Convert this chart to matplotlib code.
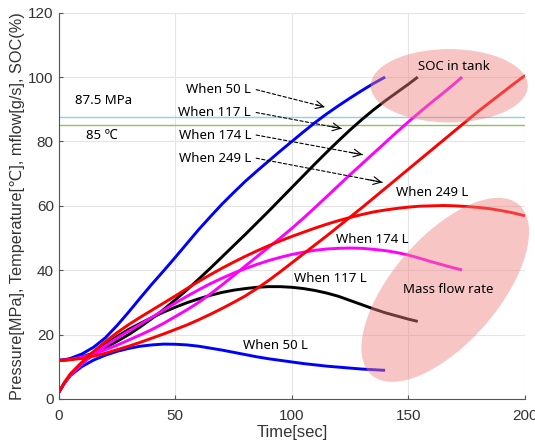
import numpy as np
import matplotlib
matplotlib.use("Agg")
import matplotlib.pyplot as plt
from matplotlib.patches import Ellipse
from matplotlib.transforms import Affine2D

# ---------------- data ----------------
t_50 = [0, 2.5, 5, 10, 15, 20, 25, 30, 35, 40, 45, 50, 55, 60, 65, 70, 75, 80, 85, 90,
        95, 100, 105, 110, 115, 120, 125, 130, 135, 140]
soc_50 = [12, 12.2, 12.6, 14, 16.1, 19.0, 22.8, 27, 31.4, 35.7, 39.8, 44, 48.3, 52.6, 56.6, 60.5,
          64.1, 67.6, 70.8, 73.9, 77, 80, 83, 85.9, 88.6, 91.1, 93.5, 95.8, 98, 100]
mflow_50 = [2, 5.0, 7.3, 10.1, 12.1, 13.6, 14.8, 15.7, 16.4, 16.8, 17.05, 17.0, 16.8, 16.4, 15.8,
            15.2, 14.5, 13.8, 13.1, 12.5, 12.0, 11.5, 11.0, 10.6, 10.2, 9.9, 9.6, 9.3, 9.1, 8.9]

t_117 = [0, 2.5, 5, 10, 15, 20, 25, 30, 35, 40, 45, 50, 55, 60, 65, 70, 75, 80, 85, 90,
         95, 100, 105, 110, 115, 120, 125, 130, 135, 140, 145, 150, 154]
soc_117 = [12, 12.1, 12.3, 13.1, 14.3, 16, 17.9, 20, 22.4, 25, 27.8, 30.8, 33.9, 37.2, 40.6, 44.1,
           47.6, 51.1, 54.7, 58.3, 62, 65.7, 69.4, 73.1, 76.7, 80.2, 83.6, 86.8, 89.8, 92.6, 95.2,
           97.8, 100]
mflow_117 = [2, 5, 7.5, 11, 14.2, 17, 19.4, 21.6, 23.5, 25.3, 27, 28.5, 29.9, 31.1, 32.2, 33.1,
             33.8, 34.3, 34.7, 34.9, 34.9, 34.7, 34.3, 33.7, 32.9, 31.9, 30.6, 29.3, 28, 26.8, 25.8,
             24.8, 24.1]

t_174 = [0, 2.5, 5, 10, 15, 20, 25, 30, 35, 40, 45, 50, 55, 60, 65, 70, 75, 80, 85, 90,
         95, 100, 105, 110, 115, 120, 125, 130, 135, 140, 145, 150, 155, 160, 165, 170, 173]
soc_174 = [12, 12.1, 12.3, 13, 14, 15.3, 16.7, 18.3, 19.9, 21.6, 23.5, 25.6, 27.7, 30, 32.6, 35.4,
           38.3, 41.3, 44.2, 47.1, 50, 53, 56.2, 59.5, 62.9, 66.3, 69.7, 73, 76.3, 79.6, 82.9,
           86.1, 89.2, 92.2, 95.1, 98.1, 100]
mflow_174 = [2, 5, 7.4, 10.9, 13.9, 16.5, 18.9, 21.1, 23.2, 25.4, 27.6, 29.8, 31.9, 33.9, 35.8,
             37.5, 39.1, 40.5, 41.8, 43, 44, 44.9, 45.6, 46.2, 46.6, 46.8, 46.9, 46.8, 46.5, 46.1,
             45.5, 44.7, 43.7, 42.6, 41.6, 40.6, 40.1]

t_249 = [0, 2.5, 5, 10, 15, 20, 25, 30, 35, 40, 45, 50, 55, 60, 65, 70, 75, 80, 85, 90,
         95, 100, 105, 110, 115, 120, 125, 130, 135, 140, 145, 150, 155, 160, 165, 170, 175,
         180, 185, 190, 195, 200]
soc_249 = [12, 12.05, 12.2, 12.6, 13.3, 14.2, 15.3, 16.4, 17.6, 18.9, 20.2, 21.6, 23, 24.6, 26.3,
           28.1, 30, 32, 34.3, 36.8, 39.5, 42.3, 45.1, 47.9, 50.7, 53.6, 56.5, 59.4, 62.4, 65.4,
           68.4, 71.4, 74.4, 77.4, 80.4, 83.4, 86.4, 89.4, 92.2, 95, 97.8, 100.5]
mflow_249 = [2, 5.2, 7.8, 11.5, 14.8, 17.8, 20.6, 23.1, 25.4, 27.6, 29.8, 32, 34.3, 36.5, 38.6,
             40.6, 42.5, 44.3, 46, 47.6, 49.1, 50.5, 51.8, 53.1, 54.3, 55.4, 56.4, 57.3, 58.1,
             58.7, 59.2, 59.6, 59.9, 60, 60.1, 60, 59.8, 59.5, 59.1, 58.5, 57.8, 56.9]

pressure_limit = 87.5
temp_limit = 85

x_ticks = [0, 50, 100, 150, 200]
y_ticks = [0, 20, 40, 60, 80, 100, 120]

arrow_labels = ["When 50 L", "When 117 L", "When 174 L", "When 249 L"]
arrow_text_y = [96.1, 89.0, 82.0, 74.8]
arrow_end_x = [114.1, 121.3, 130.3, 138.8]
arrow_end_y = [90.7, 84.0, 75.9, 67.3]

# ---------------- plot ----------------
fig = plt.figure(figsize=(5.35, 4.47), dpi=100)
ax = fig.add_axes([0.1097, 0.1074, 0.9813 - 0.1097, 0.9716 - 0.1074])

tick_font = ['Liberation Sans', 'DejaVu Sans']
ann_font = ['Noto Sans', 'DejaVu Sans']

series = [
    (t_50, soc_50, mflow_50, '#0000ff'),
    (t_117, soc_117, mflow_117, '#000000'),
    (t_174, soc_174, mflow_174, '#ff00ff'),
    (t_249, soc_249, mflow_249, '#ff0000'),
]
for t, soc, mf, c in series:
    ax.plot(t, soc, color=c, lw=2.1, zorder=2, solid_capstyle='butt', solid_joinstyle='round')
    ax.plot(t, mf, color=c, lw=2.1, zorder=2, solid_capstyle='butt', solid_joinstyle='round')

ax.axhline(pressure_limit, color='#8ecfee', lw=1.0, zorder=1.5)
ax.axhline(temp_limit, color='#92c060', lw=1.0, zorder=1.5)

ax.set_xlim(0, 200)
ax.set_ylim(0, 120)
ax.set_xticks(x_ticks)
ax.set_yticks(y_ticks)
ax.grid(True, color='#e4e4e4', lw=0.8, zorder=0)
ax.set_axisbelow(True)
for s in ['top', 'right']:
    ax.spines[s].set_visible(False)
for s in ['left', 'bottom']:
    ax.spines[s].set_color('#555555')
    ax.spines[s].set_linewidth(0.8)
ax.tick_params(direction='in', length=3, width=0.8, color='#555555', labelcolor='#333333', labelsize=11)
ax.tick_params(axis='x', pad=7.5)
for lab in ax.get_xticklabels() + ax.get_yticklabels():
    lab.set_family(tick_font)

ax.set_xlabel('Time[sec]', fontsize=12, family=tick_font, color='#333333', labelpad=1)
ax.set_ylabel('Pressure[MPa], Temperature[℃], mflow[g/s], SOC(%)', fontsize=11.7,
              family=tick_font, color='#333333', labelpad=2.5)

# limit labels
ax.text(19.4, 92.7, '87.5 MPa', ha='center', va='center', fontsize=9.5, family=ann_font, zorder=5)
ax.text(18.6, 81.8, '85 ℃', ha='center', va='center', fontsize=9.5, family=ann_font, zorder=5)

# dashed arrows
arrow_text_x = 82.5
arrow_start_x = 84.7
for lab, ty, ex, ey in zip(arrow_labels, arrow_text_y, arrow_end_x, arrow_end_y):
    ax.text(arrow_text_x, ty, lab, ha='right', va='center', fontsize=9.5, family=ann_font, zorder=5)
    ax.annotate('', xy=(ex, ey), xytext=(arrow_start_x, ty),
                arrowprops=dict(arrowstyle='-', linestyle=(0, (3, 2)), lw=0.8, color='black',
                                shrinkA=0, shrinkB=0), zorder=5)
    hx = ex - (ex - arrow_start_x) * 0.12
    hy = ey - (ey - ty) * 0.12
    ax.annotate('', xy=(ex, ey), xytext=(hx, hy),
                arrowprops=dict(arrowstyle='->', lw=0.8, color='black', mutation_scale=14,
                                shrinkA=0, shrinkB=0), zorder=5)

# ellipses
pink = '#f08080'
e1 = Ellipse((167.5, 97.3), 67.4, 22.8, facecolor=pink, edgecolor='none', alpha=0.45,
             zorder=3, clip_on=False)
ax.add_patch(e1)
ky = 3.216 / 2.3335
e2 = Ellipse((165.8, 33.9 * ky), 96.5, 45.5, angle=49.1, facecolor=pink, edgecolor='none',
             alpha=0.45, zorder=3, clip_on=False,
             transform=Affine2D().scale(1, 1 / ky) + ax.transData)
ax.add_patch(e2)

# curve labels
ax.text(169.6, 103.3, 'SOC in tank', ha='center', va='center', fontsize=9.5, family=ann_font, zorder=5)
ax.text(160, 64, 'When 249 L', ha='center', va='center', fontsize=9.5, family=ann_font, zorder=5)
ax.text(134.5, 49.7, 'When 174 L', ha='center', va='center', fontsize=9.5, family=ann_font, zorder=5)
ax.text(116.3, 37.5, 'When 117 L', ha='center', va='center', fontsize=9.5, family=ann_font, zorder=5)
ax.text(92.8, 16.5, 'When 50 L', ha='center', va='center', fontsize=9.5, family=ann_font, zorder=5)
ax.text(167, 33.9, 'Mass flow rate', ha='center', va='center', fontsize=9.5, family=ann_font, zorder=5)

fig.savefig('out.png', dpi=100)
